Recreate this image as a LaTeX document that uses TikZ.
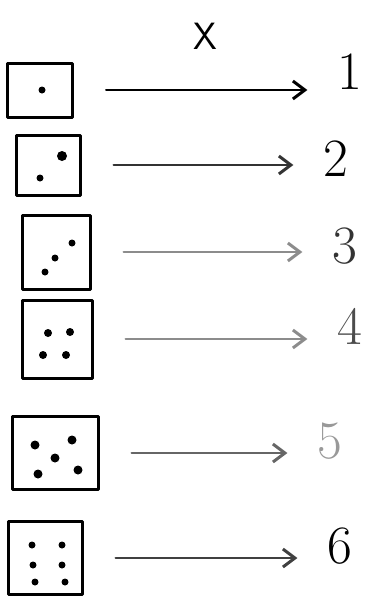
\documentclass[tikz,border=0pt]{standalone}
\usetikzlibrary{arrows.meta}

\tikzset{
  die/.style={draw, line width=3pt, rectangle, inner sep=0pt},
  flow/.style={line width=2pt, -{Straight Barb[length=12pt, width=18pt, line width=3pt]}, shorten <=32pt, shorten >=28pt},
  digit/.style={font=\fontsize{54}{54}\selectfont, inner sep=2pt},
}

\begin{document}
\begin{tikzpicture}[x=1pt, y=-1pt, line cap=round, line join=round]
  \useasboundingbox (0,0) rectangle (375,597);

  % -- Header --
  \node[font=\sffamily\fontsize{38}{38}\selectfont] (hdr) at (205,36) {X};

  % -- Dice --
  \node[die, minimum width=65pt, minimum height=54pt] (d1) at (40,90) {};
  \node[die, minimum width=64pt, minimum height=60pt] (d2) at (48,165) {};
  \node[die, minimum width=68pt, minimum height=74pt] (d3) at (56,252) {};
  \node[die, minimum width=70pt, minimum height=78pt] (d4) at (57,339) {};
  \node[die, minimum width=86pt, minimum height=73pt] (d5) at (55,453) {};
  \node[die, minimum width=74pt, minimum height=73pt] (d6) at (45,558) {};

  % -- Pips --
  \fill (42,90) circle (3.5);
  \fill (62,156) circle (5);
  \fill (40,178) circle (3.5);
  \foreach \px/\py in {72/243, 55/258, 45/272} \fill (\px,\py) circle (3.5);
  \foreach \px/\py in {48/333, 70/332, 43/355, 66/355} \fill (\px,\py) circle (4);
  \foreach \px/\py in {35/445, 72/440, 55/458, 38/474, 78/470} \fill (\px,\py) circle (4.5);
  \foreach \px/\py in {32/545, 62/545, 33/565, 62/565, 35/582, 65/582} \fill (\px,\py) circle (3.5);

  % -- Numbers --
  \node[digit] (n1) at (350,72) {1};
  \node[digit] (n2) at (336,159) {2};
  \node[digit, black!80] (n3) at (345,246) {3};
  \node[digit, black!70] (n4) at (350,326) {4};
  \node[digit, black!40] (n5) at (330,441) {5};
  \node[digit] (n6) at (340,546) {6};

  % -- Arrows --
  \draw[flow] (d1.east) -- (n1.west |- d1.east);
  \draw[flow, black!80] (d2.east) -- (n2.west |- d2.east);
  \draw[flow, black!45] (d3.east) -- (n3.west |- d3.east);
  \draw[flow, black!45] (d4.east) -- (n4.west |- d4.east);
  \draw[flow, black!60] (d5.east) -- (n5.west |- d5.east);
  \draw[flow, black!75] (d6.east) -- (n6.west |- d6.east);

\end{tikzpicture}
\end{document}
